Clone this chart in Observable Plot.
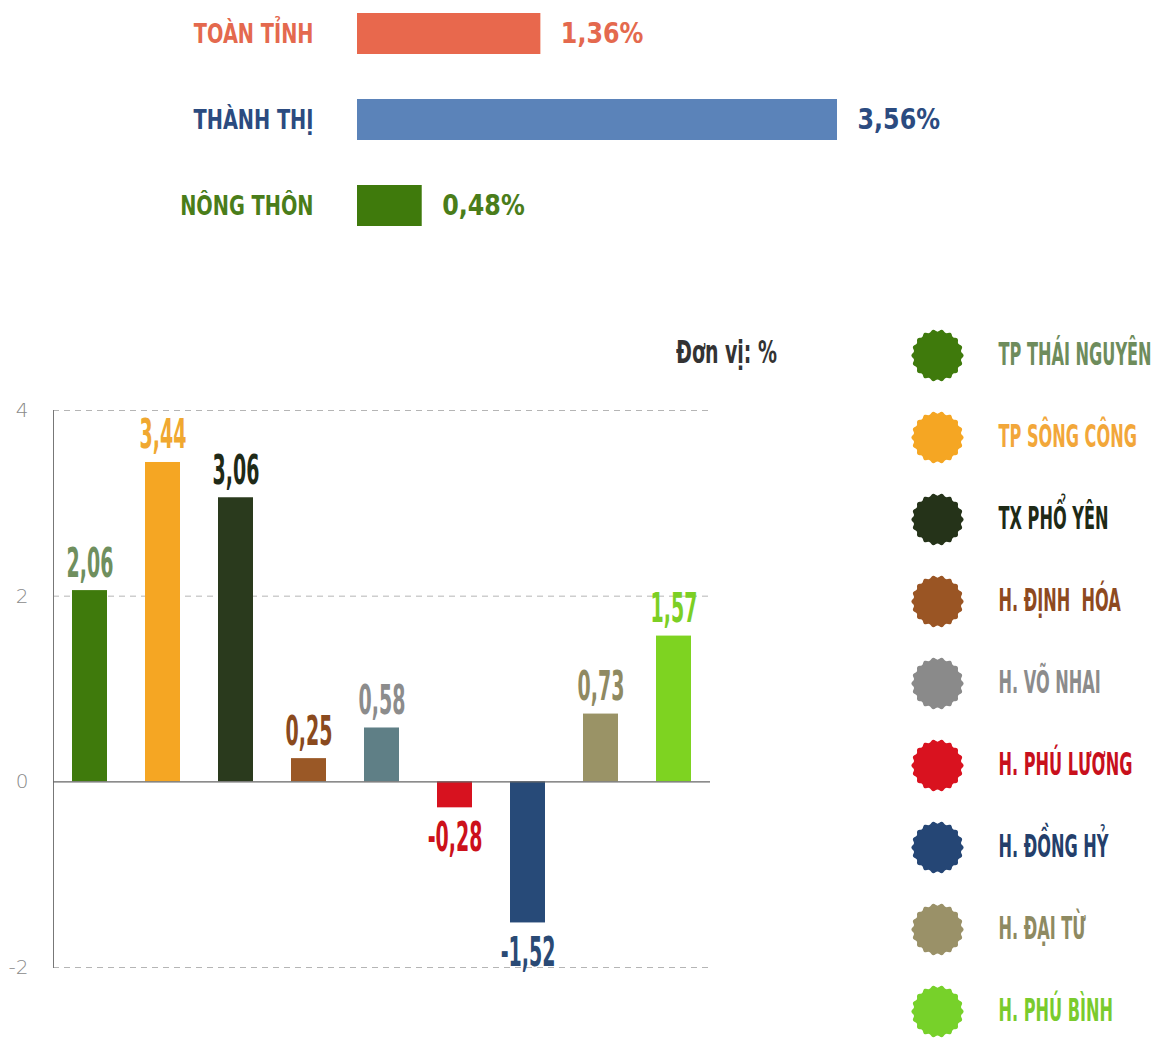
<!DOCTYPE html>
<html><head><meta charset="utf-8">
<script src="https://cdn.jsdelivr.net/npm/d3@7"></script>
<script src="https://cdn.jsdelivr.net/npm/@observablehq/plot@0.6"></script>
<style>
body{margin:0;background:#fff;}
#wrap{position:relative;width:1157px;height:1043px;overflow:hidden;font-family:"DejaVu Sans Condensed","Liberation Sans Narrow",sans-serif;}
#wrap > div{position:absolute;}
svg{overflow:visible;}
</style></head><body><div id="wrap">
<div id="top" style="left:0;top:0"></div>
<div id="unit" style="left:676px;top:336px;font-size:27px;font-weight:bold;color:#333;transform:scale(0.78,1.2);transform-origin:left center;white-space:nowrap">Đơn vị: %</div>
<div id="bars" style="left:0;top:290px"></div>
<div id="legend" style="left:880px;top:300px"></div>
</div>
<script>
// ---- Summary (top) ----
const summaryNames = ["TOÀN TỈNH", "THÀNH THỊ", "NÔNG THÔN"];
const summaryValues = [1.36, 3.56, 0.48];
const summaryBarColors = ["#e8684d", "#5b83b9", "#3f7a0c"];
const summaryTextColors = ["#e4694e", "#2b4b80", "#4a7d1a"];

// ---- Districts (bottom) ----
const districts = ["TP THÁI NGUYÊN", "TP SÔNG CÔNG", "TX PHỔ YÊN", "H. ĐỊNH  HÓA", "H. VÕ NHAI", "H. PHÚ LƯƠNG", "H. ĐỒNG HỶ", "H. ĐẠI TỪ", "H. PHÚ BÌNH"];
const growth = [2.06, 3.44, 3.06, 0.25, 0.58, -0.28, -1.52, 0.73, 1.57];
const barColors = ["#3f7a0c", "#f5a623", "#2a3a1d", "#9a5826", "#5f7f86", "#d7121f", "#274a78", "#9a9366", "#7ed321"];
const labelColors = ["#6f8f5e", "#f0a830", "#1f2a17", "#8a4a1e", "#8c8c8c", "#cc111b", "#2a4a75", "#8f8a62", "#7ccf24"];
const legendCircleColors = ["#3f7a0c", "#f5a623", "#253319", "#9a5524", "#8a8a8a", "#d9121f", "#254675", "#9a9168", "#77d12a"];
const legendTextColors = ["#6e8c5c", "#f2a73a", "#1e2a16", "#8e4a1f", "#8c8c8c", "#c8101c", "#243f6b", "#8e8a62", "#7acb2d"];
const yTicks = [-2, 0, 2, 4];

const FONT = '"DejaVu Sans Condensed","Liberation Sans Narrow",sans-serif';
const fmt = v => v.toFixed(2).replace(".", ",");

// condense the glyphs of the n-th text mark group of an svg (display-font look)
function stretch(svg, n, sx, sy) {
  const groups = svg.querySelectorAll('g[aria-label="text"]');
  const g = groups[n];
  if (!g) return;
  g.querySelectorAll("text").forEach(t => {
    const tr = t.getAttribute("transform");
    if (tr) {
      t.setAttribute("transform", tr + ` scale(${sx},${sy})`);
    } else {
      const xa = t.getAttribute("x"), ya = t.getAttribute("y");
      const x = xa !== null && !isNaN(+xa) ? +xa : 0;
      const y = ya !== null && !isNaN(+ya) ? +ya : 0;
      if (xa !== null && !isNaN(+xa)) t.removeAttribute("x");
      if (ya !== null && !isNaN(+ya)) t.removeAttribute("y");
      t.setAttribute("transform", `translate(${x},${y}) scale(${sx},${sy})`);
    }
  });
}

// top chart
const summary = summaryNames.map((name, i) => ({name, value: summaryValues[i], bar: summaryBarColors[i], text: summaryTextColors[i]}));
const topSvg = Plot.plot({
  width: 1157, height: 240,
  marginLeft: 357, marginRight: 320, marginTop: 3, marginBottom: 4,
  style: {fontFamily: FONT, background: "transparent"},
  x: {domain: [0, d3.max(summaryValues)], axis: null},
  y: {domain: summaryNames, axis: null, paddingInner: 0.52, paddingOuter: 0.1},
  color: {type: "identity"},
  marks: [
    Plot.barX(summary, {x: "value", y: "name", fill: "bar"}),
    Plot.text(summary, {y: "name", text: "name", frameAnchor: "left", dx: -44, textAnchor: "end", fill: "text", fontSize: 25, fontWeight: "bold"}),
    Plot.text(summary, {x: "value", y: "name", text: d => fmt(d.value) + "%", dx: 20, textAnchor: "start", fill: "text", fontSize: 27, fontWeight: "bold"})
  ]
});
stretch(topSvg, 0, 0.86, 1.08);
stretch(topSvg, 1, 0.98, 1.05);
document.getElementById("top").appendChild(topSvg);

// bottom chart
const data = districts.map((name, i) => ({name, value: growth[i], bar: barColors[i], label: labelColors[i]}));
const barsSvg = Plot.plot({
  width: 880, height: 753,
  marginLeft: 53, marginRight: 170, marginTop: 120, marginBottom: 76,
  style: {fontFamily: FONT, background: "transparent"},
  x: {domain: districts, axis: null, paddingInner: 0.52, paddingOuter: 0.26},
  y: {domain: [d3.min(yTicks), d3.max(yTicks)], axis: null},
  color: {type: "identity"},
  marks: [
    Plot.ruleY(yTicks.filter(d => d !== 0), {stroke: "#b5b5b5", strokeDasharray: "6,5", strokeWidth: 1}),
    Plot.frame({anchor: "left", stroke: "#777"}),
    Plot.axisY({ticks: yTicks, tickSize: 0, tickPadding: 25, tickFormat: d => String(d), label: null, fontSize: 20, fill: "#8a8a8a", fontFamily: "DejaVu Sans", fontWeight: 300}),
    Plot.barY(data, {x: "name", y: "value", fill: "bar"}),
    Plot.ruleY([0], {stroke: "#666", strokeWidth: 1.2}),
    Plot.text(data.filter(d => d.value >= 0), {x: "name", y: "value", text: d => fmt(d.value), lineAnchor: "bottom", dy: -14, fill: "label", fontSize: 32, fontWeight: "bold"}),
    Plot.text(data.filter(d => d.value < 0), {x: "name", y: "value", text: d => fmt(d.value), lineAnchor: "top", dy: 14, fill: "label", fontSize: 32, fontWeight: "bold"})
  ]
});
stretch(barsSvg, 0, 0.66, 1.3);
stretch(barsSvg, 1, 0.66, 1.3);
document.getElementById("bars").appendChild(barsSvg);

// legend
const scallop = {
  draw(context, size) {
    const r = Math.sqrt(size / Math.PI);
    const n = 160;
    for (let i = 0; i <= n; ++i) {
      const a = (i / n) * 2 * Math.PI;
      const rr = r * (1 + 0.045 * Math.cos(18 * a));
      const px = rr * Math.cos(a), py = rr * Math.sin(a);
      if (i === 0) context.moveTo(px, py); else context.lineTo(px, py);
    }
    context.closePath();
  }
};
const legendData = districts.map((name, i) => ({name, circle: legendCircleColors[i], text: legendTextColors[i]}));
const legendSvg = Plot.plot({
  width: 277, height: 743,
  marginLeft: 0, marginRight: 163, marginTop: 52, marginBottom: 29,
  style: {fontFamily: FONT, background: "transparent"},
  x: {axis: null},
  y: {type: "point", domain: districts, axis: null, padding: 0},
  color: {type: "identity"},
  marks: [
    Plot.dot(legendData, {y: "name", r: 25, fill: "circle", symbol: scallop}),
    Plot.text(legendData, {y: "name", text: "name", dx: 61, textAnchor: "start", fill: "text", fontSize: 26, fontWeight: "bold"})
  ]
});
stretch(legendSvg, 0, 0.69, 1.2);
document.getElementById("legend").appendChild(legendSvg);
</script>
</body></html>
